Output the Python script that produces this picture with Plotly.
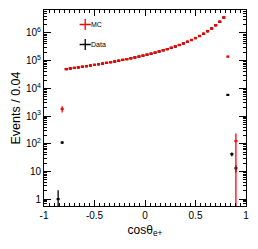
import numpy as np
import plotly.graph_objects as go

# bin centres (bin width 0.04)
curve_x = [round(-0.78 + 0.04 * i, 2) for i in range(40)]

mc_curve = [50000, 52500, 55000, 57500, 60500, 63500, 67000, 70500, 74500, 79000,
            83500, 88500, 94000, 100000, 107000, 114000, 122000, 131000, 141000, 152000,
            165000, 179000, 196000, 215000, 237000, 262000, 292000, 327000, 369000, 420000,
            482000, 558000, 655000, 778000, 940000, 1160000, 1460000, 1900000, 2560000, 3650000]
data_curve = [49300, 52000, 54600, 57100, 60200, 63000, 66600, 70200, 74100, 78600,
              83100, 88200, 93500, 99400, 106500, 113600, 121500, 130400, 140500, 151300,
              164200, 178300, 195000, 214200, 236000, 261000, 290800, 325900, 367500, 418300,
              480000, 556000, 652000, 775000, 936000, 1155000, 1452000, 1890000, 2545000, 3630000]

mc_x = [-0.82] + curve_x + [0.82, 0.90]
mc_y = [1800] + mc_curve + [140000, 125]
mc_err_plus = [450] + [float(np.sqrt(v)) for v in mc_curve] + [400, 110]
mc_err_minus = [450] + [float(np.sqrt(v)) for v in mc_curve] + [400, 124.8]

data_x = [-0.86, -0.82] + curve_x + [0.82, 0.86, 0.90]
data_y = [1, 110] + data_curve + [5800, 42, 13]
data_err_plus = [1.1, 10.5] + [float(np.sqrt(v)) for v in data_curve] + [76, 6.5, 3.6]
data_err_minus = [0.92, 10.5] + [float(np.sqrt(v)) for v in data_curve] + [76, 6.5, 3.6]

half_bin = 0.015

legend_names = ["MC", "Data"]
legend_colors = ["#ff0000", "black"]

yticks = [0, 1, 2, 3, 4, 5, 6]
ytick_text = ["1", "10", "10<sup>2</sup>", "10<sup>3</sup>", "10<sup>4</sup>", "10<sup>5</sup>", "10<sup>6</sup>"]
yvals = [10 ** p for p in yticks]
xticks = [-1, -0.5, 0, 0.5, 1]
xtick_text = ["-1", "-0.5", "0", "0.5", "1"]

fig = go.Figure()

def add_series(xs, ys, ep, em, color):
    fig.add_trace(go.Scatter(
        x=xs, y=ys, mode="markers", showlegend=False,
        marker=dict(color=color, size=2),
        error_x=dict(type="constant", value=half_bin, color=color, thickness=2.2, width=0),
        error_y=dict(type="data", array=ep, arrayminus=em, symmetric=False,
                     color=color, thickness=1.3, width=0),
    ))

add_series(data_x, data_y, data_err_plus, data_err_minus, "black")
add_series(mc_x, mc_y, mc_err_plus, mc_err_minus, legend_colors[0])

for i, (name, color) in enumerate(zip(legend_names, legend_colors)):
    fig.add_trace(go.Scatter(
        x=[None], y=[None], mode="markers", name=" ", legendgroup=str(i),
        marker=dict(symbol="cross-thin", size=8, line=dict(width=1.3, color=color), color=color),
    ))

font = "Liberation Sans, Arial, sans-serif"

# legend labels placed next to the legend symbols
for i, name in enumerate(legend_names):
    fig.add_annotation(xref="paper", yref="paper", x=0.223, y=0.927 - i * 0.102,
                       xanchor="left", yanchor="middle", showarrow=False,
                       text=name, font=dict(family=font, size=7, color="black"))

axis_common = dict(
    showline=True, linecolor="black", linewidth=1, mirror="allticks",
    ticks="inside", tickcolor="black", showgrid=False, zeroline=False, automargin=False,
    tickfont=dict(family=font, size=10, color="black"),
)

# the page body adds an 8px offset, so the figure is sized to fit the window
fig.update_layout(
    width=250, height=241,
    margin=dict(l=36, r=12, t=2, b=43),
    paper_bgcolor="white", plot_bgcolor="white",
    font=dict(family=font, color="black"),
    legend=dict(x=0.105, y=1.0, xanchor="left", yanchor="top",
                font=dict(family=font, size=7, color="black"),
                bgcolor="rgba(0,0,0,0)", tracegroupgap=1, itemwidth=30),
    xaxis=dict(range=[-1, 1], tickvals=xticks, ticktext=xtick_text, ticklen=6,
               minor=dict(dtick=0.05, ticklen=3, ticks="inside", tickcolor="black"),
               title=dict(text="cosθ<sub>e+</sub>", font=dict(family=font, size=12), standoff=5),
               **axis_common),
    yaxis=dict(type="log", range=[-0.25, 6.83], tickvals=yvals, ticktext=ytick_text, ticklen=7,
               minor=dict(dtick="D1", ticklen=3, ticks="inside", tickcolor="black"),
               title=dict(text="Events / 0.04", font=dict(family=font, size=12.5), standoff=2),
               **axis_common),
)

fig.write_html("out.html")
